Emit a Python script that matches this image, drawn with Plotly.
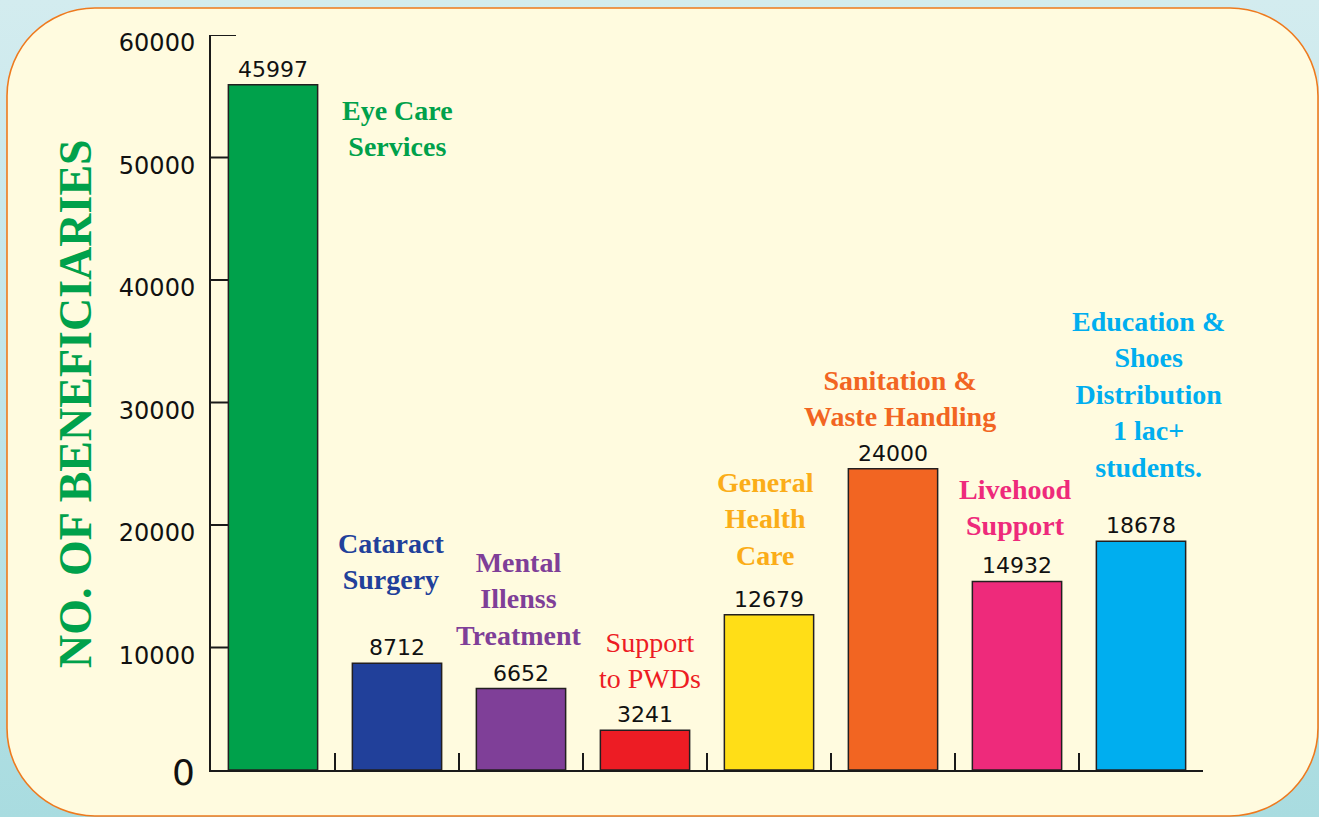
import plotly.graph_objects as go

# ---- data ----
categories = ["Eye Care Services", "Cataract Surgery", "Mental Illenss Treatment",
              "Support to PWDs", "General Health Care", "Sanitation & Waste Handling",
              "Livehood Support", "Education & Shoes Distribution 1 lac+ students."]
bar_heights = [55940, 8712, 6652, 3241, 12679, 24600, 15390, 18678]
value_labels = ["45997", "8712", "6652", "3241", "12679", "24000", "14932", "18678"]
bar_colors = ["#00A14B", "#21409A", "#7F3F98", "#ED1C24", "#FFDE17", "#F26522", "#EE2A7B", "#00AEEF"]
y_ticks = [10000, 20000, 30000, 40000, 50000, 60000]
y_tick_text = ["10000", "20000", "30000", "40000", "50000", "60000"]

# category label annotations (text, colour, x position, y position, bold)
cat_label_text = ["Eye Care<br>Services", "Cataract<br>Surgery", "Mental<br>Illenss<br>Treatment",
                  "Support<br>to PWDs", "General<br>Health<br>Care", "Sanitation &<br>Waste Handling",
                  "Livehood<br>Support", "Education &<br>Shoes<br>Distribution<br>1 lac+<br>students."]
cat_label_colors = ["#00A14B", "#21409A", "#7F3F98", "#ED1C24", "#FBAD18", "#F26522", "#EE2A7B", "#00AEEF"]
cat_label_x = [1.0, 0.95, 1.98, 3.04, 3.97, 5.06, 5.98, 7.06]
cat_label_y = [52400, 17020, 14000, 8940, 20530, 30330, 21430, 30650]
cat_label_bold = [True, True, True, False, True, True, True, True]

W, H = 1319, 817
L, R, T, B = 211, 1203, 35, 770


def px(x):
    return (x - L) / (R - L)


def py(y):
    return (B - y) / (B - T)


fig = go.Figure()
fig.add_trace(go.Bar(
    x=list(range(len(categories))), y=bar_heights,
    marker=dict(color=bar_colors, line=dict(color="#231F20", width=1.5)),
    width=0.72,
    text=value_labels, textposition="outside", constraintext="none",
    textfont=dict(family="DejaVu Sans", size=22, color="#111111"),
    cliponaxis=False, hoverinfo="skip", showlegend=False,
))

annotations = []
for t, c, x, y, b in zip(cat_label_text, cat_label_colors, cat_label_x, cat_label_y, cat_label_bold):
    annotations.append(dict(
        x=x, y=y, xref="x", yref="y", text=t, showarrow=False,
        xanchor="center", yanchor="middle", align="center",
        font=dict(family="Liberation Serif", size=28, color=c, weight="bold" if b else "normal"),
    ))

# y axis title
annotations.append(dict(
    x=px(75), y=py(404), xref="paper", yref="paper", text="NO. OF BENEFICIARIES",
    textangle=-90, showarrow=False, xanchor="center", yanchor="middle",
    font=dict(family="Liberation Serif", size=46, color="#00A14B", weight="bold"),
))
# large zero label
annotations.append(dict(
    x=px(197), y=0, xref="paper", yref="y", text="0", showarrow=False,
    xanchor="right", yanchor="middle", yshift=-2,
    font=dict(family="DejaVu Sans", size=36, color="#111111"),
))

# rounded panel
x0, y0, x1, y1, r = 7, 8, 1318, 816, 88
k = 0.5523 * r


def P(a, b):
    return f"{px(a):.5f},{py(b):.5f}"


path = (f"M {P(x0 + r, y0)} L {P(x1 - r, y0)} "
        f"C {P(x1 - r + k, y0)} {P(x1, y0 + r - k)} {P(x1, y0 + r)} "
        f"L {P(x1, y1 - r)} "
        f"C {P(x1, y1 - r + k)} {P(x1 - r + k, y1)} {P(x1 - r, y1)} "
        f"L {P(x0 + r, y1)} "
        f"C {P(x0 + r - k, y1)} {P(x0, y1 - r + k)} {P(x0, y1 - r)} "
        f"L {P(x0, y0 + r)} "
        f"C {P(x0, y0 + r - k)} {P(x0 + r - k, y0)} {P(x0 + r, y0)} Z")

shapes = [dict(type="path", xref="paper", yref="paper", path=path,
               fillcolor="#FFFBDF", line=dict(color="#EE7A1E", width=1.6), layer="below")]
# inward y-axis tick marks (drawn beneath the bars)
for v in y_ticks:
    shapes.append(dict(type="line", xref="paper", yref="y", x0=0, x1=px(L + 25), y0=v, y1=v,
                       line=dict(color="#1a1a1a", width=2), layer="below"))

fig.update_layout(
    width=W, height=H,
    margin=dict(l=L, r=W - R, t=T, b=H - B, pad=0),
    paper_bgcolor="rgba(0,0,0,0)", plot_bgcolor="rgba(0,0,0,0)",
    showlegend=False,
    annotations=annotations,
    shapes=shapes,
    xaxis=dict(range=[-0.5, 7.5], showgrid=False, zeroline=False,
               showline=True, linecolor="#1a1a1a", linewidth=2,
               tickmode="array", tickvals=[0.5, 1.5, 2.5, 3.5, 4.5, 5.5, 6.5, 7.5],
               ticks="inside", ticklen=17, tickwidth=2, tickcolor="#1a1a1a",
               showticklabels=False, fixedrange=True, layer="below traces"),
    yaxis=dict(range=[0, 60000], showgrid=False, zeroline=False,
               showline=True, linecolor="#1a1a1a", linewidth=2,
               tickmode="array", tickvals=y_ticks, ticktext=y_tick_text,
               ticks="", ticklabelstandoff=9, ticklabelshift=8,
               tickfont=dict(family="DejaVu Sans", size=24, color="#111111"),
               fixedrange=True, layer="below traces"),
)

post = ("var d=document.documentElement,b=document.body;"
        "d.style.margin='0';d.style.padding='0';d.style.overflow='hidden';"
        "b.style.margin='0';b.style.padding='0';b.style.overflow='hidden';"
        "d.style.background='linear-gradient(to bottom, #D3ECEF 0%, #BFE4E9 50%, #A9DCE0 100%)';"
        "d.style.minHeight='100%';b.style.background='transparent';")

fig.write_html("out.html", post_script=post, config={"displayModeBar": False})
